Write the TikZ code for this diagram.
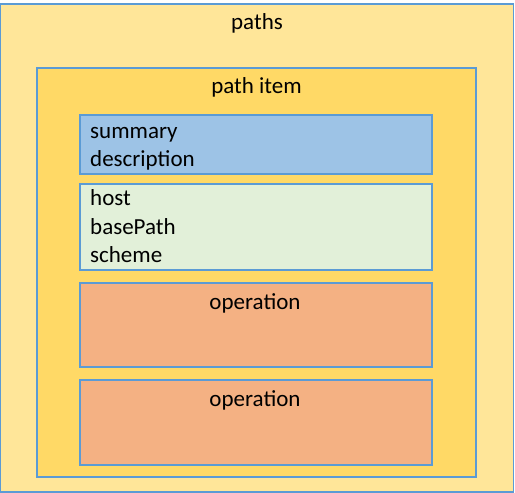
\documentclass[tikz,border=0pt]{standalone}
\usepackage{fontspec}
\setmainfont{Carlito}
\usepackage{xcolor}
\definecolor{Paths Sand}{HTML}{FFE699}
\definecolor{Item Gold}{HTML}{FFD966}
\definecolor{Sky Blue}{HTML}{9DC3E6}
\definecolor{Mint Green}{HTML}{E2F0D9}
\definecolor{Peach}{HTML}{F4B183}
\definecolor{Edge Blue}{HTML}{5B9BD5}
\colorlet{cSand}{Paths Sand}
\colorlet{cGold}{Item Gold}
\colorlet{cBlue}{Sky Blue}
\colorlet{cMint}{Mint Green}
\colorlet{cPeach}{Peach}
\colorlet{cEdge}{Edge Blue}
\usetikzlibrary{positioning}
\tikzset{
	node distance = 4pt,
	font = \fontsize{23}{28}\selectfont,
	box/.style={
		draw=cEdge,
		line width=1.4pt,
		rectangle,
		inner sep=0pt,
		outer sep=0pt
	},
	caption/.style={
		inner sep=0pt,
		anchor=base,
		text=black
	},
	listing/.style={
		inner sep=0pt,
		anchor=base west,
		text=black
	}
}
\begin{document}
\begin{tikzpicture}[x=1pt, y=-1pt]
		\useasboundingbox (0,0) rectangle (515,493);
% ---
% nested boxes
% ---
\node[box, fill=cSand, minimum width=513pt, minimum height=488pt] at (257,248) (paths) {};
\node[box, fill=cGold, minimum width=439pt, minimum height=409pt] at (256.5,272.5) (item) {};
\node[box, fill=cBlue, minimum width=352pt, minimum height=59pt] at (256,144.5) (info) {};
\node[box, fill=cMint, minimum width=352pt, minimum height=86pt] at (256,227) (server) {};
\node[box, fill=cPeach, minimum width=352pt, minimum height=84pt] at (256,325) (op-1) {};
\node[box, fill=cPeach, minimum width=352pt, minimum height=85pt] at (256,422.5) (op-2) {};

% ---
% texts
% ---
\node[caption] at ([yshift=-25pt]paths.north) (paths-label) {paths};
\node[caption] at ([yshift=-25pt]item.north) (item-label) {path item};
\node[listing] at ([shift={(10pt,-23pt)}]info.north west) (info-1) {summary};
\node[listing] at ([yshift=-28pt]info-1.base west) (info-2) {description};
\node[listing] at ([shift={(10pt,-21.5pt)}]server.north west) (server-1) {host};
\node[listing] at ([yshift=-28.5pt]server-1.base west) (server-2) {basePath};
\node[listing] at ([yshift=-28.5pt]server-2.base west) (server-3) {scheme};
\node[caption] at ([shift={(-1pt,-26.5pt)}]op-1.north) (op-1-label) {operation};
\node[caption] at ([shift={(-1pt,-26pt)}]op-2.north) (op-2-label) {operation};
	\end{tikzpicture}
\end{document}
